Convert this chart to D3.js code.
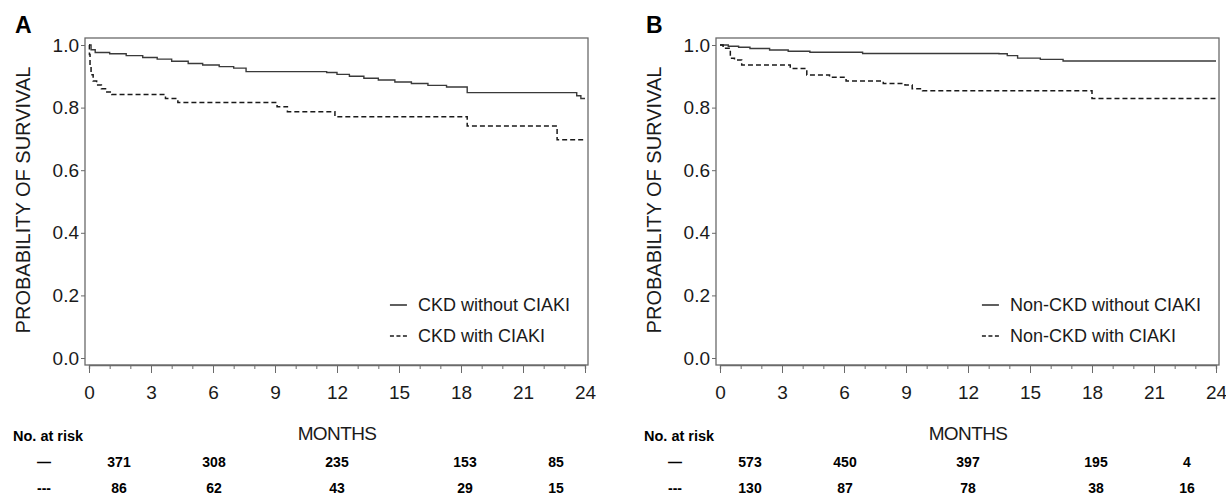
<!DOCTYPE html>
<html>
<head>
<meta charset="utf-8">
<script src="https://cdn.jsdelivr.net/npm/d3@7"></script>
<style>
  html, body { margin: 0; padding: 0; background: #fff; }
  svg { display: block; font-family: "Liberation Sans", Arial, Helvetica, sans-serif; }
</style>
</head>
<body>
<svg id="canvas" width="1226" height="499"></svg>
<script>
// ---- data ----
let monthTicks = [0, 3, 6, 9, 12, 15, 18, 21, 24];
let survTicks = [0, 0.2, 0.4, 0.6, 0.8, 1.0];
let riskMonths = [0, 6, 12, 18, 24];

// panel A : CKD
let ckdWithout = [
  [0, 1.0], [0.1, 0.985], [0.3, 0.976], [1.0, 0.972], [1.8, 0.966], [2.6, 0.96],
  [3.3, 0.955], [4.0, 0.948], [4.8, 0.941], [5.5, 0.936], [6.3, 0.931], [7.0, 0.926],
  [7.6, 0.915], [11.5, 0.912], [12.0, 0.906], [12.6, 0.9], [13.3, 0.894], [14.0, 0.888],
  [14.8, 0.882], [15.6, 0.877], [16.4, 0.871], [17.3, 0.866], [18.3, 0.848],
  [23.6, 0.838], [23.8, 0.829], [24.0, 0.829]
];
let ckdWith = [
  [0, 1.0], [0.02, 0.97], [0.05, 0.93], [0.1, 0.905], [0.2, 0.885], [0.37, 0.872],
  [0.6, 0.86], [0.8, 0.85], [1.1, 0.842], [3.7, 0.829], [4.3, 0.816], [9.1, 0.803],
  [9.6, 0.787], [11.9, 0.771], [18.3, 0.741], [22.65, 0.697], [24.0, 0.697]
];
let ckdRiskWithout = [371, 308, 235, 153, 85];
let ckdRiskWith = [86, 62, 43, 29, 15];

// panel B : non-CKD
let nonCkdWithout = [
  [0, 1.0], [0.4, 0.996], [0.9, 0.993], [1.45, 0.989], [2.4, 0.984], [3.3, 0.98],
  [4.35, 0.977], [6.9, 0.973], [13.5, 0.972], [13.9, 0.966], [14.4, 0.958],
  [15.5, 0.954], [16.6, 0.949], [24.0, 0.949]
];
let nonCkdWith = [
  [0, 1.0], [0.15, 0.99], [0.5, 0.958], [0.7, 0.952], [1.05, 0.936], [3.4, 0.925],
  [4.2, 0.904], [5.3, 0.897], [6.1, 0.885], [7.9, 0.877], [8.95, 0.872], [9.3, 0.86],
  [9.8, 0.854], [18.0, 0.829], [24.0, 0.829]
];
let nonCkdRiskWithout = [573, 450, 397, 195, 4];
let nonCkdRiskWith = [130, 87, 78, 38, 16];

let panels = [
  { letter: 'A', dx: 0, solid: ckdWithout, dashed: ckdWith,
    labels: ['CKD without CIAKI', 'CKD with CIAKI'],
    risk: [ckdRiskWithout, ckdRiskWith] },
  { letter: 'B', dx: 631, solid: nonCkdWithout, dashed: nonCkdWith,
    labels: ['Non-CKD without CIAKI', 'Non-CKD with CIAKI'],
    risk: [nonCkdRiskWithout, nonCkdRiskWith] }
];

// ---- layout ----
let frame = { left: 85, right: 588, top: 38, bottom: 365 };
let ink = '#1a1a1a';
let canvas = d3.select('#canvas');

let x = d3.scaleLinear().domain([0, 24]).range([89, 585]);
let y = d3.scaleLinear().domain([0, 1]).range([358, 45]);
// columns of the risk table (not evenly spaced in the figure)
let tableX = d3.scaleLinear().domain(riskMonths).range([119, 214, 337, 465, 556]);

let line = d3.line()
  .x(d => x(d[0]))
  .y(d => y(d[1]))
  .curve(d3.curveStepAfter);

let drawPanel = (p) => {
  let g = canvas.append('g').attr('transform', 'translate(' + p.dx + ',0)');

  g.append('text')
    .attr('x', 15).attr('y', 33)
    .attr('font-size', 23).attr('font-weight', 'bold')
    .attr('fill', '#000')
    .text(p.letter);

  g.append('rect')
    .attr('x', frame.left).attr('y', frame.top)
    .attr('width', frame.right - frame.left)
    .attr('height', frame.bottom - frame.top)
    .attr('fill', 'none')
    .attr('stroke', '#6a6a6a')
    .attr('stroke-width', 1.3);

  // y axis
  let yAxis = g.append('g')
    .attr('transform', 'translate(' + frame.left + ',0)')
    .call(d3.axisLeft(y).tickValues(survTicks).tickFormat(d3.format('.1f')).tickSize(4).tickPadding(2));
  yAxis.select('.domain').remove();
  yAxis.selectAll('line').attr('stroke', '#6a6a6a');
  yAxis.selectAll('text').attr('font-size', 19).attr('fill', ink)
    .attr('font-family', '"Liberation Sans", Arial, sans-serif');

  // x axis, minor ticks first
  let xMinor = g.append('g')
    .attr('transform', 'translate(0,' + frame.bottom + ')')
    .call(d3.axisBottom(x).tickValues(d3.range(0, 25, 1)).tickSize(4).tickFormat(''));
  xMinor.select('.domain').attr('stroke', '#6a6a6a').attr('stroke-width', 1.3);
  xMinor.selectAll('line').attr('stroke', '#6a6a6a');

  let xAxis = g.append('g')
    .attr('transform', 'translate(0,' + frame.bottom + ')')
    .call(d3.axisBottom(x).tickValues(monthTicks).tickSize(8).tickSizeOuter(0));
  xAxis.select('.domain').remove();
  xAxis.selectAll('line').attr('stroke', '#6a6a6a');
  xAxis.selectAll('text')
    .attr('y', 34).attr('dy', null)
    .attr('font-size', 19).attr('fill', ink)
    .attr('font-family', '"Liberation Sans", Arial, sans-serif');

  // axis titles
  g.append('text')
    .attr('transform', 'translate(30,200) rotate(-90)')
    .attr('text-anchor', 'middle')
    .attr('font-size', 20).attr('fill', ink)
    .text('PROBABILITY OF SURVIVAL');

  g.append('text')
    .attr('x', 337).attr('y', 440)
    .attr('text-anchor', 'middle')
    .attr('font-size', 19).attr('fill', ink)
    .attr('letter-spacing', -0.6)
    .text('MONTHS');

  // survival curves
  g.append('path')
    .datum(p.solid)
    .attr('d', line)
    .attr('fill', 'none')
    .attr('stroke', '#3a3a3a')
    .attr('stroke-width', 1.4);

  g.append('path')
    .datum(p.dashed)
    .attr('d', line)
    .attr('fill', 'none')
    .attr('stroke', '#1a1a1a')
    .attr('stroke-width', 1.5)
    .attr('stroke-dasharray', '5,3');

  // legend
  let legend = g.append('g');
  let texts = legend.selectAll('text')
    .data(p.labels)
    .enter()
    .append('text')
    .attr('y', (d, i) => 311 + i * 31)
    .attr('font-size', 18).attr('fill', ink)
    .text(d => d);
  let maxW = d3.max(texts.nodes(), n => n.getComputedTextLength());
  let tx = frame.right - 18 - maxW;
  texts.attr('x', tx);
  legend.selectAll('line')
    .data(p.labels)
    .enter()
    .append('line')
    .attr('x1', tx - 28).attr('x2', tx - 11)
    .attr('y1', (d, i) => 305 + i * 31)
    .attr('y2', (d, i) => 305 + i * 31)
    .attr('stroke', ink)
    .attr('stroke-width', 1.4)
    .attr('stroke-dasharray', (d, i) => i === 0 ? null : '4,2.5');

  // number at risk table
  g.append('text')
    .attr('x', 13).attr('y', 441)
    .attr('font-size', 14.5).attr('font-weight', 'bold').attr('fill', '#000')
    .text('No. at risk');

  let symbols = ['\u2014', '---'];
  p.risk.forEach((row, r) => {
    let ry = 467 + r * 26;
    g.append('text')
      .attr('x', 44).attr('y', ry)
      .attr('text-anchor', 'middle')
      .attr('font-size', 14).attr('font-weight', 'bold').attr('fill', '#000')
      .text(symbols[r]);
    g.selectAll('.risk' + r)
      .data(row)
      .enter()
      .append('text')
      .attr('class', 'risk' + r)
      .attr('x', (d, i) => tableX(riskMonths[i]))
      .attr('y', ry)
      .attr('text-anchor', 'middle')
      .attr('font-size', 14).attr('font-weight', 'bold').attr('fill', '#000')
      .text(d => d);
  });
};

panels.forEach(drawPanel);
</script>
</body>
</html>
